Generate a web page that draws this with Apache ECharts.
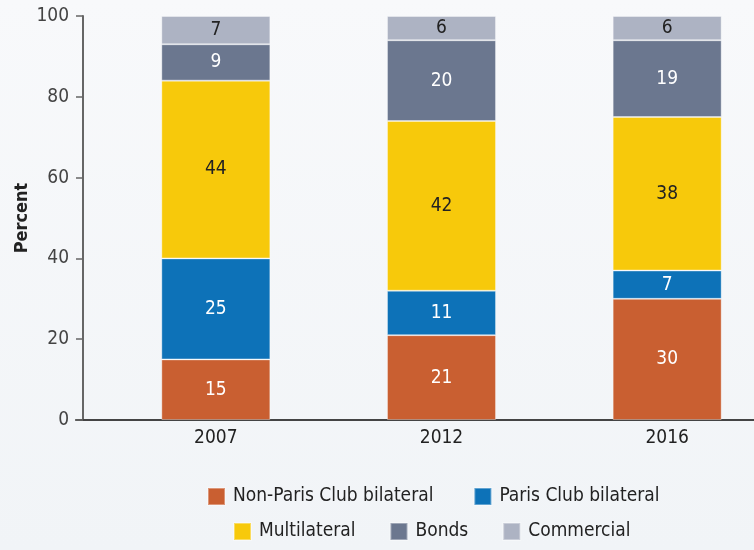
<!DOCTYPE html>
<html>
<head>
<meta charset="utf-8">
<script src="https://cdn.jsdelivr.net/npm/echarts@6/dist/echarts.min.js"></script>
<style>
  html, body { margin: 0; padding: 0; background: #f6f8fa; }
  #charts { width: 754px; height: 550px; }
</style>
</head>
<body>
<div id="charts"></div>
<script>
var years = ['2007', '2012', '2016'];
var nonParis = [15, 21, 30];
var paris = [25, 11, 7];
var multilateral = [44, 42, 38];
var bonds = [9, 20, 19];
var commercial = [7, 6, 6];
var yTicks = [0, 20, 40, 60, 80, 100];

var FONT = '"DejaVu Sans Condensed", "Liberation Sans Narrow", sans-serif';

function mkSeries(name, data, color, labelColor) {
    return {
        name: name,
        type: 'bar',
        stack: 'total',
        barWidth: 109,
        data: data,
        itemStyle: { color: color, borderColor: 'rgba(255,255,255,0.35)', borderWidth: 1 },
        label: {
            show: true,
            position: 'inside',
            color: labelColor,
            fontFamily: FONT,
            fontSize: 19
        }
    };
}

var myChart = echarts.init(document.getElementById('charts'));
var option = {
    backgroundColor: {
        type: 'linear', x: 0, y: 0, x2: 0, y2: 1,
        colorStops: [{ offset: 0, color: '#f8f9fb' }, { offset: 1, color: '#f1f4f7' }]
    },
    textStyle: { fontFamily: FONT },
    // plot runs past the right edge, like the cropped original
    // second small grid only carries the baseline stub left of the first bar slot
    grid: [
        { left: 103, top: 16, width: 677, height: 404, outerBoundsMode: 'none', containLabel: false },
        { left: 76, top: 16, width: 30, height: 404, outerBoundsMode: 'none', containLabel: false }
    ],
    legend: [{
        data: ['Non-Paris Club bilateral', 'Paris Club bilateral'],
        left: 202, top: 482,
        itemWidth: 17, itemHeight: 17, itemGap: 40,
        icon: 'rect',
        textStyle: { fontSize: 19, color: '#222', fontFamily: FONT, padding: [0, 0, 0, 3] }
    }, {
        data: ['Multilateral', 'Bonds', 'Commercial'],
        left: 228, top: 517,
        itemWidth: 17, itemHeight: 17, itemGap: 34,
        icon: 'rect',
        textStyle: { fontSize: 19, color: '#222', fontFamily: FONT, padding: [0, 0, 0, 3] }
    }],
    xAxis: [{
        type: 'category',
        gridIndex: 0,
        data: years,
        axisLine: { lineStyle: { color: '#444', width: 2 } },
        axisTick: { show: false },
        axisLabel: { color: '#222', fontSize: 19, margin: 9, fontFamily: FONT }
    }, {
        type: 'category',
        gridIndex: 1,
        data: [''],
        axisLine: { show: true, onZero: false, lineStyle: { color: '#444', width: 2 } },
        axisTick: { show: false },
        axisLabel: { show: false }
    }],
    yAxis: [{
        type: 'value',
        gridIndex: 0,
        min: yTicks[0],
        max: yTicks[yTicks.length - 1],
        interval: yTicks[1] - yTicks[0],
        offset: 20,
        name: 'Percent',
        nameLocation: 'middle',
        nameGap: 52,
        nameMoveOverlap: false,
        nameTextStyle: { fontSize: 18, color: '#222', fontFamily: FONT, fontWeight: 'bold' },
        axisLine: { show: true, lineStyle: { color: '#666', width: 2 } },
        axisTick: { show: true, length: 7, lineStyle: { color: '#666', width: 1.5 } },
        axisLabel: { color: '#444', fontSize: 19, margin: 14, fontFamily: FONT },
        splitLine: { show: false }
    }, {
        type: 'value',
        gridIndex: 1,
        min: 0,
        max: 100,
        axisLine: { show: false },
        axisTick: { show: false },
        axisLabel: { show: false },
        splitLine: { show: false }
    }],
    series: [
        mkSeries('Non-Paris Club bilateral', nonParis, '#c95f31', '#fff'),
        mkSeries('Paris Club bilateral', paris, '#0d72b8', '#fff'),
        mkSeries('Multilateral', multilateral, '#f7c90b', '#222'),
        mkSeries('Bonds', bonds, '#6b778f', '#fff'),
        mkSeries('Commercial', commercial, '#adb3c3', '#222'),
        { name: 'stub', type: 'bar', xAxisIndex: 1, yAxisIndex: 1, data: [0], silent: true }
    ]
};
myChart.setOption(option);
</script>
</body>
</html>
